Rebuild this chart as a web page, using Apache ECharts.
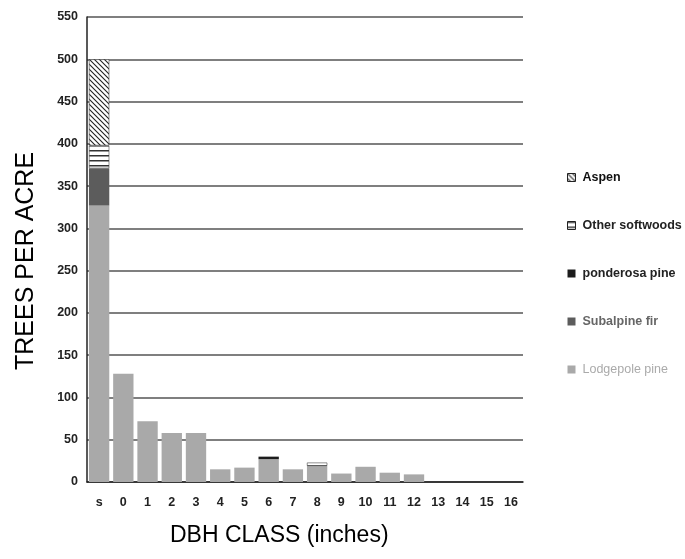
<!DOCTYPE html>
<html>
<head>
<meta charset="utf-8">
<script src="https://cdn.jsdelivr.net/npm/echarts@6/dist/echarts.min.js"></script>
<style>html,body{margin:0;padding:0;background:#fff}#c{width:685px;height:559px}</style>
</head>
<body>
<div id="c"></div>
<script>
var categories = ['s','0','1','2','3','4','5','6','7','8','9','10','11','12','13','14','15','16'];
var lodgepole  = [327,128,72,58,58,15,17,27,15,19,10,18,11,9,null,null,null,null];
var subalpine  = [44,null,null,null,null,null,null,null,null,null,null,null,null,null,null,null,null,null];
var ponderosa  = [null,null,null,null,null,null,null,3,null,null,null,null,null,null,null,null,null,null];
var otherSoft  = [27,null,null,null,null,null,null,null,null,4,null,null,null,null,null,null,null,null];
var aspen      = [102,null,null,null,null,null,null,null,null,null,null,null,null,null,null,null,null,null];
var yTicks = [0,50,100,150,200,250,300,350,400,450,500,550];

function pattern(type){
  var c = document.createElement('canvas');
  var s = 5;
  c.width = s; c.height = s;
  var g = c.getContext('2d');
  g.fillStyle = '#fff'; g.fillRect(0,0,s,s);
  g.strokeStyle = '#222'; g.lineWidth = 1.1;
  if (type === 'diag') {
    g.beginPath();
    g.moveTo(-1,-1); g.lineTo(s+1,s+1);
    g.moveTo(-1-s,-1); g.lineTo(1,s+1);
    g.moveTo(s-1,-1); g.lineTo(2*s+1,s+1);
    g.stroke();
  } else {
    g.fillStyle = '#333';
    g.fillRect(0,0,s,1.5);
  }
  return {image: c, repeat: 'repeat'};
}

var FONT = 'Liberation Sans, Arial, sans-serif';
var chart = echarts.init(document.getElementById('c'), null, {renderer:'canvas'});
function mk(name, data, color, border){
  return {
    name: name, type: 'bar', stack: 'a', data: data, barCategoryGap: '16%',
    itemStyle: {color: color, borderColor: border || 'transparent', borderWidth: border ? 0.6 : 0},
    emphasis: {disabled: true}
  };
}
chart.setOption({
  animation: false,
  grid: {left: 87, right: 162, top: 17, bottom: 77},
  xAxis: {
    type: 'category', data: categories,
    axisLine: {lineStyle: {color: '#222', width: 1.5}},
    axisTick: {show: false},
    axisLabel: {color: '#222', fontWeight: 'bold', fontSize: 12.5, fontFamily: FONT, margin: 14, interval: 0}
  },
  yAxis: {
    type: 'value', min: 0, max: 550, interval: 50,
    axisLine: {show: true, lineStyle: {color: '#222', width: 1.5}},
    axisTick: {show: false},
    axisLabel: {color: '#222', fontWeight: 'bold', fontSize: 12.5, fontFamily: FONT, margin: 9},
    splitLine: {lineStyle: {color: '#555', width: 1.5}}
  },
  legend: {
    orient: 'vertical', left: 562, top: 166, itemGap: 35,
    itemWidth: 8, itemHeight: 8, icon: 'rect',
    textStyle: {fontFamily: FONT, fontSize: 12.5, fontWeight: 'bold', color: '#222', padding: [0,0,0,2]},
    data: [
      {name: 'Aspen', textStyle: {color: '#111'}, itemStyle:{borderColor:'#222', borderWidth:1}},
      {name: 'Other softwoods', textStyle: {color: '#222'}, itemStyle:{borderColor:'#222', borderWidth:1}},
      {name: 'ponderosa pine', textStyle: {color: '#222'}},
      {name: 'Subalpine fir', textStyle: {color: '#666'}},
      {name: 'Lodgepole pine', textStyle: {color: '#aaa', fontWeight: 'normal'}}
    ]
  },
  graphic: [
    {type: 'text', left: 170, top: 524, style: {text: 'DBH CLASS (inches)', font: '23px ' + FONT, fill: '#000'}},
    {type: 'text', x: 14, y: 370, rotation: Math.PI/2, style: {text: 'TREES PER ACRE', font: '25px ' + FONT, fill: '#000'}}
  ],
  series: [
    mk('Lodgepole pine', lodgepole, '#a9a9a9'),
    mk('Subalpine fir', subalpine, '#5c5c5c'),
    mk('ponderosa pine', ponderosa, '#1c1c1c'),
    mk('Other softwoods', otherSoft, pattern('horiz'), '#444'),
    mk('Aspen', aspen, pattern('diag'), '#444')
  ]
});
</script>
</body>
</html>
